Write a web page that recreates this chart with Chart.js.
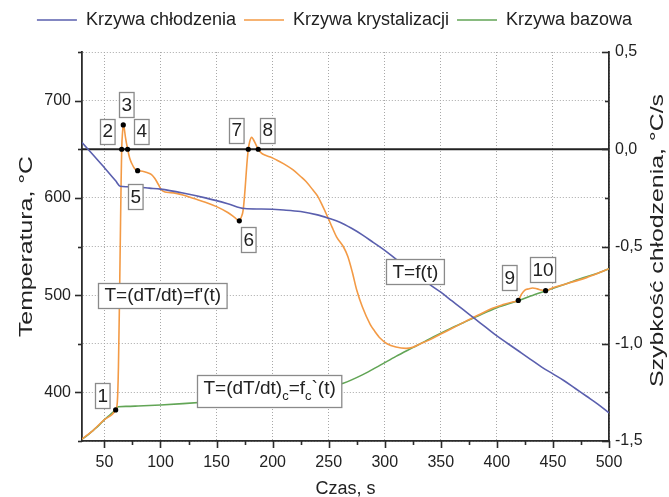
<!DOCTYPE html>
<html>
<head>
<meta charset="utf-8">
<script src="https://cdn.jsdelivr.net/npm/chart.js@4.4.1/dist/chart.umd.min.js"></script>
<style>
  html, body { margin: 0; padding: 0; background: #fff; }
</style>
</head>
<body>
<canvas id="myChart" width="669" height="497"></canvas>
<script>
// cooling curve T = f(t), left axis
const coolTime = [30, 40, 50, 60, 64, 70, 80, 90, 100, 120, 140, 160, 175, 190, 210, 225, 240, 250, 260, 270, 280, 290, 300, 310, 320, 330, 340, 350, 360, 370, 380, 390, 400, 410, 420, 430, 440, 450, 460, 470, 480, 490, 500];
const coolTemp = [657, 644, 631, 617.5, 612, 611.5, 611, 610, 609, 605, 600, 594, 589, 588.5, 587.5, 586, 582.5, 579, 575, 569, 562, 554, 546, 537, 528, 520, 511, 503, 494, 485, 476, 467, 458, 450, 442, 434, 426, 419, 412, 404, 396, 388, 379];

// crystallisation curve dT/dt, right axis
const crystTime = [30, 40, 50, 60, 61.5, 62.5, 63.5, 64.2, 64.8, 65.4, 66.2, 66.8, 67.6, 68.8, 70.7, 72.5, 74.3, 77, 79.6, 84, 88, 92, 95, 98, 101, 104, 109, 114, 120, 129, 140, 150, 160, 166, 170.3, 172, 173.8, 175.5, 177, 178.3, 179.6, 181.3, 182.8, 185, 187.2, 190, 193, 198, 203.5, 210, 218, 225, 230, 236, 240, 244, 249, 253, 257, 263, 267, 271, 275, 280, 287, 291, 296, 302, 310, 319, 325, 332, 340, 350, 361, 372, 385, 395, 405, 414, 419.1, 422, 425, 428, 432, 436, 440, 443.5, 450, 460, 470, 480, 490, 500];
const crystRate = [-1.49, -1.445, -1.39, -1.34, -1.3, -1.12, -0.75, -0.45, -0.2, 0, 0.09, 0.125, 0.11, 0.06, 0, -0.045, -0.072, -0.1, -0.11, -0.113, -0.12, -0.13, -0.15, -0.18, -0.21, -0.22, -0.223, -0.227, -0.235, -0.252, -0.272, -0.295, -0.325, -0.35, -0.368, -0.35, -0.31, -0.2, -0.08, 0, 0.04, 0.061, 0.05, 0.025, 0, -0.02, -0.03, -0.04, -0.055, -0.075, -0.105, -0.14, -0.167, -0.21, -0.24, -0.285, -0.347, -0.4, -0.45, -0.5, -0.55, -0.63, -0.724, -0.81, -0.9, -0.935, -0.972, -1.0, -1.017, -1.024, -1.018, -1.0, -0.98, -0.95, -0.918, -0.885, -0.848, -0.82, -0.8, -0.785, -0.777, -0.745, -0.724, -0.718, -0.713, -0.718, -0.724, -0.727, -0.712, -0.695, -0.678, -0.66, -0.638, -0.614];

// base curve (dT/dt)c, right axis
const baseTime = [30, 35, 40, 45, 50, 55, 60, 62.4, 70, 80, 100, 120, 144, 165, 189, 210, 233, 250, 263, 280, 296, 310, 325, 340, 355, 370, 385, 400, 419, 430, 444, 460, 475, 490, 500];
const baseRate = [-1.49, -1.47, -1.445, -1.42, -1.39, -1.365, -1.34, -1.324, -1.322, -1.32, -1.315, -1.308, -1.298, -1.288, -1.272, -1.258, -1.238, -1.222, -1.203, -1.16, -1.11, -1.065, -1.02, -0.975, -0.932, -0.892, -0.852, -0.815, -0.779, -0.755, -0.727, -0.695, -0.665, -0.637, -0.615];

// characteristic points 1..10
const markNames = ['1', '2', '3', '4', '5', '6', '7', '8', '9', '10'];
const markTime = [60, 65.4, 66.8, 70.7, 79.6, 170.3, 178.3, 187.2, 419.1, 443.5];
const markRate = [-1.34, 0, 0.125, 0, -0.11, -0.368, 0, 0, -0.777, -0.727];

// axes
const timeMin = 30, timeMax = 500;
const xTicks = [50, 75, 100, 125, 150, 175, 200, 225, 250, 275, 300, 325, 350, 375, 400, 425, 450, 475, 500];
const tempTicks = [350, 400, 450, 500, 550, 600, 650, 700, 750];
const tempLabels = [400, 500, 600, 700];
const rateTicks = [-1.5, -1.25, -1, -0.75, -0.5, -0.25, 0, 0.25, 0.5];
const rateLabels = [-1.5, -1, -0.5, 0, 0.5];

const FONT = "'Liberation Sans', Arial, sans-serif";
const axisColor = '#2b2b2b';
const gridColor = '#a8a8a8';

// label boxes next to the points (pixel offset of the box centre)
const markOffsets = [[-13, -14], [-14, -18], [3, -20], [14, -18], [-2, 26], [9, 19], [-12, -19], [9, -19], [-9, -23], [-3, -21]];
// formula boxes: position in (time, temperature)
const formulas = [
  { t: 102, T: 500, parts: [["T=(dT/dt)=f'(t)", false]] },
  { t: 197, T: 401, parts: [['T=(dT/dt)', false], ['c', true], ['=f', false], ['c', true], ['`(t)', false]] },
  { t: 327, T: 524, parts: [['T=f(t)', false]] }
];

function drawBox(ctx, cx, cy, parts) {
  const mainFont = '19px ' + FONT, subFont = '13px ' + FONT;
  let w = 0, hasSub = false;
  parts.forEach(p => { ctx.font = p[1] ? subFont : mainFont; w += ctx.measureText(p[0]).width; if (p[1]) hasSub = true; });
  const padX = parts.length === 1 && parts[0][0].length < 3 ? 2 : 6;
  const h = hasSub ? 32 : 25;
  const bx = Math.round(cx - w / 2 - padX) + 0.5, by = Math.round(cy - h / 2) + 0.5;
  ctx.fillStyle = '#fff';
  ctx.strokeStyle = '#8a8a8a';
  ctx.lineWidth = 1.3;
  ctx.fillRect(bx, by, w + 2 * padX, h);
  ctx.strokeRect(bx, by, w + 2 * padX, h);
  ctx.fillStyle = '#222';
  ctx.textBaseline = 'middle';
  ctx.textAlign = 'left';
  let x = bx + padX;
  const ty = hasSub ? cy - 3 : cy + 1;
  parts.forEach(p => {
    ctx.font = p[1] ? subFont : mainFont;
    ctx.fillText(p[0], x, p[1] ? ty + 8 : ty);
    x += ctx.measureText(p[0]).width;
  });
}

const boxNotes = {
  id: 'boxNotes',
  afterDatasetsDraw(chart) {
    const ctx = chart.ctx;
    const xs = chart.scales.x, yT = chart.scales.yT;
    const meta = chart.getDatasetMeta(4);
    ctx.save();
    markNames.forEach((name, i) => {
      const p = meta.data[i];
      drawBox(ctx, p.x + markOffsets[i][0], p.y + markOffsets[i][1], [[name, false]]);
    });
    formulas.forEach(f => drawBox(ctx, xs.getPixelForValue(f.t), yT.getPixelForValue(f.T), f.parts));
    ctx.restore();
  }
};

// vertical title, stretched along its length like the scanned figure
function drawVerticalTitle(ctx, text, x, y) {
  ctx.save();
  ctx.fillStyle = '#222';
  ctx.font = '18px ' + FONT;
  ctx.textAlign = 'center';
  ctx.textBaseline = 'middle';
  ctx.translate(x, y);
  ctx.rotate(-Math.PI / 2);
  ctx.scale(1.38, 1);
  ctx.fillText(text, 0, 0);
  ctx.restore();
}

// Origin-style ticks: major/minor, right axis ticks point inward
const axisTicks = {
  id: 'axisTicks',
  afterDraw(chart) {
    const { ctx, chartArea: a, scales } = chart;
    ctx.save();
    ctx.strokeStyle = axisColor;
    ctx.lineWidth = 1.6;
    const seg = (x1, y1, x2, y2) => { ctx.beginPath(); ctx.moveTo(x1, y1); ctx.lineTo(x2, y2); ctx.stroke(); };
    xTicks.forEach(v => {
      const px = Math.round(scales.x.getPixelForValue(v)) + 0.5;
      seg(px, a.bottom, px, a.bottom + (v % 50 === 0 ? 7 : 4));
    });
    tempTicks.forEach(v => {
      const py = Math.round(scales.yT.getPixelForValue(v)) + 0.5;
      seg(a.left - (v % 100 === 0 && v < 750 ? 7 : 4), py, a.left, py);
    });
    rateTicks.forEach(v => {
      const py = Math.round(scales.yR.getPixelForValue(v)) + 0.5;
      seg(a.right - (rateLabels.includes(v) ? 7 : 4), py, a.right, py);
    });
    ctx.restore();
    const midY = (a.top + a.bottom) / 2;
    drawVerticalTitle(ctx, 'Temperatura, °C', 27, midY);
    drawVerticalTitle(ctx, 'Szybkość chłodzenia, °C/s', 658, midY - 6);
  }
};

const ctx = document.getElementById('myChart');

const chart = new Chart(ctx, {
  type: 'line',
  data: {
    datasets: [{
      label: 'Krzywa chłodzenia',
      data: coolTime.map((t, i) => ({ x: t, y: coolTemp[i] })),
      yAxisID: 'yT',
      borderColor: '#5a5fae',
      borderWidth: 1.6,
      order: 1
    }, {
      label: 'Krzywa krystalizacji',
      data: crystTime.map((t, i) => ({ x: t, y: crystRate[i] })),
      yAxisID: 'yR',
      borderColor: '#f39a45',
      borderWidth: 1.6,
      order: 2
    }, {
      label: 'Krzywa bazowa',
      data: baseTime.map((t, i) => ({ x: t, y: baseRate[i] })),
      yAxisID: 'yR',
      borderColor: '#62a556',
      borderWidth: 1.6,
      order: 3
    }, {
      label: 'zero',
      data: [{ x: timeMin, y: 0 }, { x: timeMax, y: 0 }],
      yAxisID: 'yR',
      borderColor: '#222',
      borderWidth: 1.8,
      order: 5
    }, {
      label: 'points',
      data: markTime.map((t, i) => ({ x: t, y: markRate[i] })),
      yAxisID: 'yR',
      showLine: false,
      pointRadius: 2.6,
      pointBackgroundColor: '#000',
      pointBorderWidth: 0,
      order: 0
    }]
  },
  options: {
    responsive: false,
    animation: false,
    devicePixelRatio: 1,
    layout: { padding: { top: 3, left: 0, right: 0, bottom: 0 } },
    elements: {
      point: { radius: 0 },
      line: { cubicInterpolationMode: 'monotone' }
    },
    plugins: {
      tooltip: { enabled: false },
      legend: {
        position: 'top',
        labels: {
          usePointStyle: true,
          pointStyle: 'line',
          pointStyleWidth: 40,
          color: '#222',
          padding: 8,
          font: { family: FONT, size: 18 },
          filter: item => item.datasetIndex < 3
        }
      }
    },
    scales: {
      xTop: {
        type: 'linear',
        position: 'top',
        min: timeMin,
        max: timeMax,
        afterFit: axis => { axis.height = 13; },
        ticks: { display: false },
        grid: { display: false },
        border: { display: false }
      },
      x: {
        type: 'linear',
        min: timeMin,
        max: timeMax,
        afterBuildTicks: axis => { axis.ticks = xTicks.map(v => ({ value: v })); },
        afterFit: axis => { axis.height = 56; },
        ticks: {
          autoSkip: false,
          maxRotation: 0,
          padding: 12,
          color: '#222',
          font: { family: FONT, size: 16 },
          callback: v => (v % 50 === 0 ? String(v) : '')
        },
        grid: {
          drawTicks: false,
          color: c => (c.tick && c.tick.value % 50 === 0 ? gridColor : 'rgba(0,0,0,0)'),
          lineWidth: 1
        },
        border: { display: true, color: axisColor, width: 1.8, dash: [1, 2] },
        title: {
          display: true,
          text: 'Czas, s',
          color: '#222',
          font: { family: FONT, size: 18 },
          padding: { top: 0, bottom: -3 }
        }
      },
      yT: {
        type: 'linear',
        position: 'left',
        min: 350,
        max: 750,
        afterBuildTicks: axis => { axis.ticks = tempTicks.map(v => ({ value: v })); },
        afterFit: axis => { axis.width = 82; },
        ticks: {
          autoSkip: false,
          padding: 11,
          color: '#222',
          font: { family: FONT, size: 16 },
          callback: v => (tempLabels.includes(v) ? String(v) : '')
        },
        grid: { drawTicks: false, color: gridColor, lineWidth: 1 },
        border: { display: true, color: axisColor, width: 1.8, dash: [1, 2] }
      },
      yR: {
        type: 'linear',
        position: 'right',
        min: -1.5,
        max: 0.5,
        afterBuildTicks: axis => { axis.ticks = rateTicks.map(v => ({ value: v })); },
        afterFit: axis => { axis.width = 60; },
        ticks: {
          autoSkip: false,
          padding: 6,
          color: '#222',
          font: { family: FONT, size: 16 },
          callback: v => (rateLabels.includes(v) ? v.toFixed(1).replace('.', ',') : '')
        },
        grid: { drawTicks: false, drawOnChartArea: false },
        border: { display: true, color: axisColor, width: 1.8 }
      }
    }
  },
  plugins: [boxNotes, axisTicks]
});
</script>
</body>
</html>
